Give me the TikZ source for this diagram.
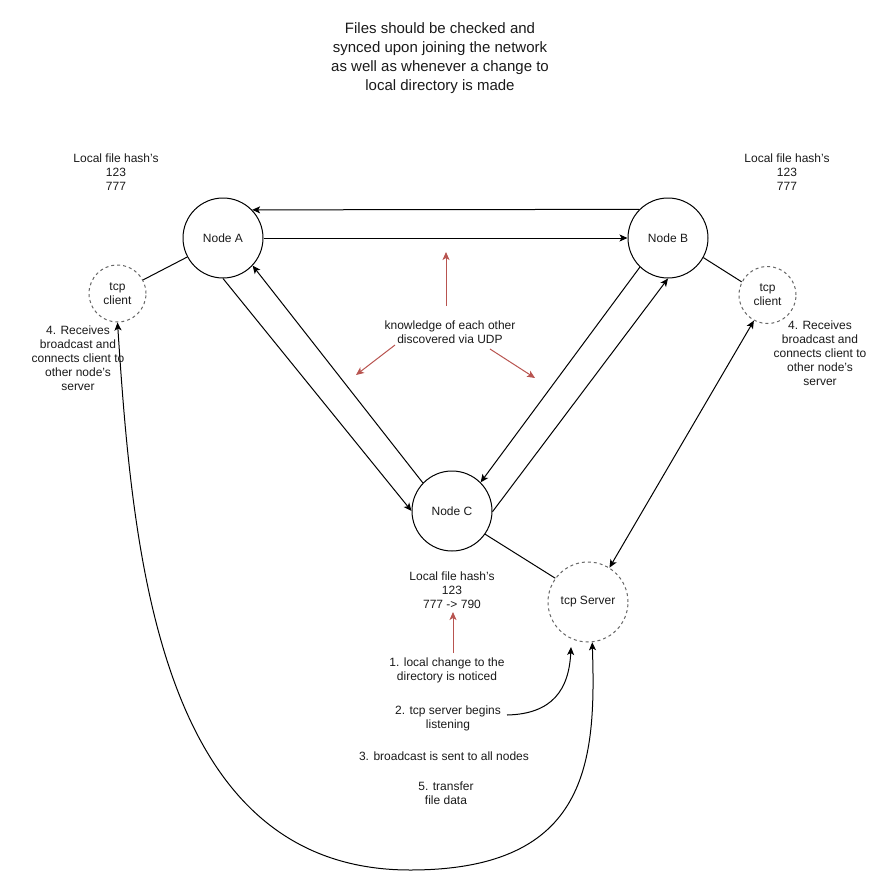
\documentclass[tikz,border=0pt]{standalone}
\usepackage{fontspec}
\setmainfont{Liberation Sans}
\usetikzlibrary{arrows.meta}
\definecolor{redarrow}{HTML}{B85450}
\definecolor{dashgray}{HTML}{666666}
\definecolor{txt}{HTML}{1A1A1A}
\begin{document}
\begin{tikzpicture}[x=1pt,y=-1pt,
  every node/.style={font=\fontsize{12}{14}\selectfont, align=center, inner sep=0pt, text=txt},
  peer/.style={circle, draw, line width=1pt, minimum size=80pt, inner sep=0pt},
  sock/.style={circle, draw=dashgray, dash pattern=on 3pt off 3pt, line width=1pt, minimum size=57pt},
  tip/.tip={Stealth[length=8pt,width=7pt,inset=2pt]},
  link/.style={line width=1pt},
  conn/.style={line width=1pt, -tip},
  bothconn/.style={line width=1pt, tip-tip},
  redarr/.style={line width=1pt, draw=redarrow, -{Stealth[length=8pt,width=7pt,inset=2pt,fill=redarrow]}},
  bigtext/.style={font=\fontsize{15}{19}\selectfont}]
\useasboundingbox (0,0) rectangle (891,891);

% title
\node[bigtext] (title) at (440,58.5) {Files should be checked and\\synced upon joining the network\\as well as whenever a change to\\local directory is made};

% peers
\node[peer] (A) at (223,238) {Node A};
\node[peer] (B) at (668,238) {Node B};
\node[peer] (C) at (452,511) {Node C};

% sockets
\node[sock] (ca) at (117.5,293.5) {tcp\\client};
\node[sock] (cb) at (767.5,295) {tcp\\client};
\node[sock, minimum size=80pt] (srv) at (588,602) {tcp Server};

% hash texts
\node (hA) at (116,172) {Local file hash's\\123\\777};
\node (hB) at (787,172) {Local file hash's\\123\\777};
\node (hC) at (452,590) {Local file hash's\\123\\777 -> 790};

% notes
\node (know) at (450,332) {knowledge of each other\\discovered via UDP};
\node (recA) at (78,358) {4. Receives\\broadcast and\\connects client to\\other node's\\server};
\node (recB) at (820,353) {4. Receives\\broadcast and\\connects client to\\other node's\\server};
\node (s1) at (447,670) {1. local change to the\\directory is noticed};
\node (s2) at (448,718) {2. tcp server begins\\listening};
\node (s3) at (444,756) {3. broadcast is sent to all nodes};
\node (s5) at (446,793) {5. transfer\\file data};

% peer links
\draw[conn] (B.135.6) -- (A.44.4);
\draw[conn] (A.east) -- (B.west);
\draw[conn] (A.south) -- (C.west);
\draw[conn] (C.136) -- (A.-43);
\draw[conn] (B.226) -- (C.45);
\draw[conn] (C.-1) -- (B.south);

% socket links
\draw[link] (A.208.5) -- (ca.28);
\draw[link] (B.331) -- (cb.153);
\draw[link] (C.325) -- (srv.144);
\draw[bothconn] (cb.242) -- (srv.58);

% long transfer curve
\draw[bothconn] (srv.276) .. controls (596,760) and (590,870) .. (410,870)
  .. controls (160,870) and (133,560) .. (ca.south);

% tcp server begins listening
\coordinate (l2) at (507,715);
\coordinate (srvin) at (571,647);
\draw[conn] (l2) .. controls (552,714) and (569,690) .. (srvin);

% red arrows
\coordinate (k0) at (446,306); \coordinate (k1) at (446,252);
\coordinate (k2) at (395,345); \coordinate (k3) at (356,375);
\coordinate (k4) at (490,349); \coordinate (k5) at (535,378);
\coordinate (c0) at (453,653); \coordinate (c1) at (453,612);
\draw[redarr] (k0) -- (k1);
\draw[redarr] (k2) -- (k3);
\draw[redarr] (k4) -- (k5);
\draw[redarr] (c0) -- (c1);
\end{tikzpicture}
\end{document}
